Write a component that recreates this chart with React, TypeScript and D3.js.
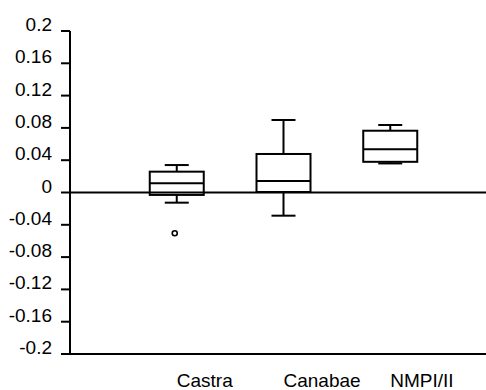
import React from "react";
import * as d3 from "d3";

const categories = ["Castra", "Canabae", "NMPI/II"];
const whiskerLow = [-0.0126, -0.0287, 0.036];
const q1 = [-0.003, 0.0006, 0.038];
const medians = [0.0114, 0.0142, 0.0535];
const q3 = [0.0258, 0.0477, 0.0765];
const whiskerHigh = [0.034, 0.0898, 0.0836];
const outlierCategory = ["Castra"];
const outlierValue = [-0.0505];
const yTicks = [0.2, 0.16, 0.12, 0.08, 0.04, 0, -0.04, -0.08, -0.12, -0.16, -0.2];

const W = 486;
const H = 390;

export default function App() {
  const y = d3.scaleLinear().domain([-0.2, 0.2]).range([354, 31]);
  const x = d3.scalePoint<string>().domain(categories).range([70, 497]).padding(1);
  const axisX = 70;
  const boxW = 54;
  const capW = 24;
  const font = "'Liberation Sans', Arial, sans-serif";
  const fmt = (v: number) => (v === 0 ? "0" : String(v));
  const sw = 2;

  return (
    <svg
      width={W}
      height={H}
      style={{ position: "absolute", left: 0, top: 0, background: "#fff" }}
    >
      {/* y axis */}
      <line x1={axisX} x2={axisX} y1={y(0.2)} y2={y(-0.2)} stroke="#000" strokeWidth={sw} />
      {yTicks.map((t) => (
        <g key={t}>
          <line x1={axisX - 9} x2={axisX} y1={y(t)} y2={y(t)} stroke="#000" strokeWidth={sw} />
          <text
            x={axisX - 18}
            y={y(t)}
            textAnchor="end"
            fontFamily={font}
            fontSize={19}
            fill="#000"
          >
            {fmt(t)}
          </text>
        </g>
      ))}
      {/* zero line and bottom line */}
      <line x1={axisX} x2={W} y1={y(0)} y2={y(0)} stroke="#000" strokeWidth={sw} />
      <line x1={axisX} x2={W} y1={y(-0.2)} y2={y(-0.2)} stroke="#000" strokeWidth={sw} />

      {categories.map((c, i) => {
        const cx = x(c)!;
        return (
          <g key={c} stroke="#000" strokeWidth={sw} fill="none">
            <line x1={cx} x2={cx} y1={y(whiskerHigh[i])} y2={y(q3[i])} />
            <line x1={cx} x2={cx} y1={y(q1[i])} y2={y(whiskerLow[i])} />
            <line x1={cx - capW / 2} x2={cx + capW / 2} y1={y(whiskerHigh[i])} y2={y(whiskerHigh[i])} />
            <line x1={cx - capW / 2} x2={cx + capW / 2} y1={y(whiskerLow[i])} y2={y(whiskerLow[i])} />
            <rect x={cx - boxW / 2} y={y(q3[i])} width={boxW} height={y(q1[i]) - y(q3[i])} />
            <line x1={cx - boxW / 2} x2={cx + boxW / 2} y1={y(medians[i])} y2={y(medians[i])} />
          </g>
        );
      })}

      {outlierCategory.map((c, i) => (
        <circle
          key={i}
          cx={x(c)! - 2}
          cy={y(outlierValue[i])}
          r={2.5}
          fill="#fff"
          stroke="#000"
          strokeWidth={1.6}
        />
      ))}

      {categories.map((c) => (
        <text
          key={c}
          x={x(c)!}
          y={387}
          textAnchor="start"
          fontFamily={font}
          fontSize={19}
          fill="#000"
        >
          {c}
        </text>
      ))}
    </svg>
  );
}
